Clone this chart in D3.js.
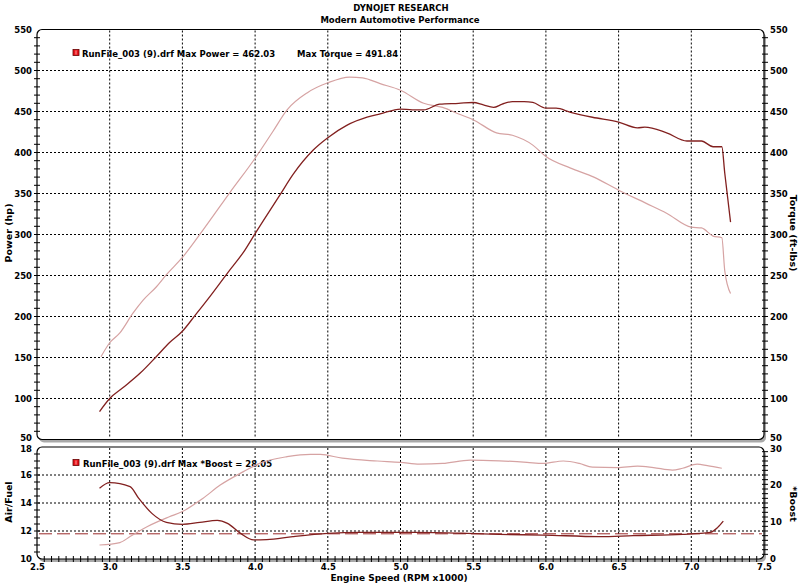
<!DOCTYPE html>
<html><head><meta charset="utf-8">
<script src="https://cdn.jsdelivr.net/npm/d3@7"></script>
<style>
html,body{margin:0;padding:0;background:#fff;}
svg text{font-family:"DejaVu Sans",Verdana,sans-serif;font-weight:bold;fill:#000;}
</style></head>
<body><svg id="c" width="800" height="584"></svg>
<script>
// ---- data ----
const powerRpm = [2.93,3.00,3.09,3.21,3.32,3.41,3.50,3.59,3.67,3.81,3.93,4.00,4.17,4.26,4.40,4.50,4.63,4.77,4.86,5.00,5.08,5.16,5.27,5.40,5.50,5.57,5.64,5.70,5.77,5.85,5.91,6.00,6.07,6.17,6.32,6.50,6.63,6.68,6.83,6.97,7.07,7.15,7.21,7.23,7.27];
const powerHp  = [84,100,113,131,151,168,182,202,220,253,281,301,348,373,403,418,433,443,447,453,452,452,459,460,461,458,455,459,462,462,461,454,454,449,443,437,430,431,424,414,414,407,407,375,315];
const torqueRpm = [2.94,3.00,3.07,3.16,3.23,3.32,3.39,3.50,3.64,3.83,4.00,4.12,4.22,4.36,4.50,4.65,4.74,4.86,5.00,5.16,5.29,5.40,5.50,5.66,5.77,5.91,6.00,6.17,6.33,6.50,6.69,6.83,7.00,7.07,7.15,7.21,7.23,7.27];
const torqueFt  = [151,168,180,204,220,236,251,272,305,352,393,425,452,473,485,492,491,484,476,460,455,447,440,424,421,409,395,381,370,354,338,326,309,308,298,296,256,228];
const afrRpm = [2.93,3.00,3.14,3.20,3.29,3.39,3.50,3.62,3.74,3.81,3.90,3.99,4.08,4.26,4.50,4.72,4.95,5.09,5.46,5.68,5.98,6.37,6.60,6.94,7.13,7.18,7.22];
const afr    = [15.05,15.45,15.17,14.33,13.26,12.62,12.48,12.62,12.76,12.55,11.83,11.36,11.38,11.6,11.83,11.9,11.9,11.9,11.83,11.76,11.71,11.6,11.67,11.76,11.9,12.24,12.7];
const boostRpm = [2.93,3.07,3.14,3.26,3.41,3.50,3.64,3.76,3.92,4.03,4.22,4.38,4.45,4.60,4.84,5.00,5.13,5.29,5.48,5.68,5.87,5.98,6.12,6.23,6.32,6.49,6.63,6.74,6.87,6.94,7.04,7.11,7.21];
const boost    = [3.75,4.4,6.0,8.7,11.3,12.7,16.2,19.8,23.4,25.6,27.4,28.05,28.0,27.0,26.25,25.9,25.4,25.6,26.5,26.3,25.9,25.6,26.25,25.6,24.6,24.5,24.9,24.5,23.8,24.3,25.4,25.0,24.3];
const afrTarget = 11.8;
const xTicks = [2.5,3.0,3.5,4.0,4.5,5.0,5.5,6.0,6.5,7.0,7.5];
const topTicks = [50,100,150,200,250,300,350,400,450,500,550];
const afTicks = [10,12,14,16,18];
const boostTicks = [0,10,20,30];
const title1 = "DYNOJET RESEARCH";
const title2 = "Modern Automotive Performance";
const legendTop1 = "RunFile_003 (9).drf Max Power = 462.03";
const legendTop2 = "Max Torque = 491.84";
const legendBot = "RunFile_003 (9).drf Max *Boost = 28.05";

// ---- scales ----
const svg = d3.select("#c");
const L = 37, R = 764;
const x = d3.scaleLinear([2.5,7.5],[L,R]);
const yT = d3.scaleLinear([50,550],[439.5,29.5]);
const yA = d3.scaleLinear([10,18],[559,447]);
const yB = d3.scaleLinear([0,30],[559,447]);

// ---- frames ----
function frame(y0,y1){
  svg.append("rect").attr("x",L+2).attr("y",y0+3).attr("width",R-L).attr("height",y1-y0)
     .attr("rx",5).attr("fill","#a9a9a9");
  svg.append("rect").attr("x",L).attr("y",y0).attr("width",R-L).attr("height",y1-y0)
     .attr("rx",5).attr("fill","#fff").attr("stroke","#000").attr("stroke-width",1.2);
}
frame(yT(550), yT(50));
frame(yA(18), yA(10));

// ---- grids ----
const gridX = xTicks.filter(v=>v>2.5&&v<7.5);
function vgrid(y0,y1){
  svg.append("g").selectAll("line").data(gridX).join("line")
    .attr("x1",d=>x(d)).attr("x2",d=>x(d)).attr("y1",y0).attr("y2",y1)
    .attr("stroke","#000").attr("stroke-dasharray","2,2").attr("stroke-width",1);
}
vgrid(yT(550)+1, yT(50)-1);
vgrid(yA(18)+1, yA(10)-1);
svg.append("g").selectAll("line").data(topTicks.filter(v=>v>50&&v<550)).join("line")
  .attr("x1",L+1).attr("x2",R-1).attr("y1",d=>yT(d)).attr("y2",d=>yT(d))
  .attr("stroke","#000").attr("stroke-dasharray","2,2");
svg.append("g").selectAll("line").data([12,14,16]).join("line")
  .attr("x1",L+1).attr("x2",R-1).attr("y1",d=>yA(d)).attr("y2",d=>yA(d))
  .attr("stroke","#000").attr("stroke-dasharray","2,2");

// ---- minor ticks ----
function ticksV(scale, vals, xa, xb){
  svg.append("g").selectAll("line").data(vals).join("line")
    .attr("x1",xa).attr("x2",xb).attr("y1",d=>scale(d)).attr("y2",d=>scale(d))
    .attr("stroke","#000");
}
ticksV(yT, d3.range(60,550,10), L-3, L+3);
ticksV(yT, d3.range(60,550,10), R-2, R+4);
ticksV(yA, d3.range(10.5,18,0.5), L-3, L+3);
ticksV(yB, d3.range(1.25,30,1.25), R-2, R+4);
svg.append("g").selectAll("line").data(d3.range(2.55,7.5,0.05)).join("line")
  .attr("x1",d=>x(d)).attr("x2",d=>x(d)).attr("y1",yA(10)-3).attr("y2",yA(10)+3)
  .attr("stroke","#000");

// ---- axes labels ----
function axisLbl(gen, tx, ty){
  const g = svg.append("g").attr("transform",`translate(${tx},${ty})`).call(gen);
  g.select(".domain").remove();
  g.selectAll(".tick line").remove();
  g.selectAll("text").attr("font-size","8.5px").attr("font-family","DejaVu Sans").attr("font-weight","bold");
  return g;
}
function nudge(g, val, dy){
  g.selectAll(".tick").filter(d=>d===val).select("text").attr("dy", dy);
}
const gTL = axisLbl(d3.axisLeft(yT).tickValues(topTicks).tickFormat(d3.format("d")).tickSize(0).tickPadding(0), 32, 0);
const gTR = axisLbl(d3.axisRight(yT).tickValues(topTicks).tickFormat(d3.format("d")).tickSize(0).tickPadding(0), 770, 0);
const gAL = axisLbl(d3.axisLeft(yA).tickValues(afTicks).tickFormat(d3.format("d")).tickSize(0).tickPadding(0), 32, 0);
const gBR = axisLbl(d3.axisRight(yB).tickValues(boostTicks).tickFormat(d3.format("d")).tickSize(0).tickPadding(0), 770, 0);
nudge(gTL, 50, "0.12em"); nudge(gTR, 50, "0.12em");
nudge(gAL, 18, "0.5em"); nudge(gBR, 30, "0.5em");
axisLbl(d3.axisBottom(x).tickValues(xTicks).tickFormat(d3.format(".1f")).tickSize(0).tickPadding(0), 0, 564);

// ---- titles ----
svg.append("text").attr("x",401).attr("y",11).attr("text-anchor","middle").attr("font-size","8.5px").text(title1);
svg.append("text").attr("x",400).attr("y",23).attr("text-anchor","middle").attr("font-size","8.5px").text(title2);
svg.append("text").attr("x",399).attr("y",581).attr("text-anchor","middle").attr("font-size","9px").text("Engine Speed (RPM x1000)");
svg.append("text").attr("transform","translate(12,233) rotate(-90)").attr("text-anchor","middle").attr("font-size","9.5px").text("Power (hp)");
svg.append("text").attr("transform","translate(790,233) rotate(90)").attr("text-anchor","middle").attr("font-size","9.5px").text("Torque (ft-lbs)");
svg.append("text").attr("transform","translate(12,502) rotate(-90)").attr("text-anchor","middle").attr("font-size","9.5px").text("Air/Fuel");
svg.append("text").attr("transform","translate(790,504) rotate(90)").attr("text-anchor","middle").attr("font-size","9.5px").text("*Boost");

// ---- legends ----
function legendBox(lx,ly){
  svg.append("rect").attr("x",lx).attr("y",ly).attr("width",6).attr("height",6)
    .attr("fill","#e8141c").attr("stroke","#600").attr("stroke-width",0.8);
  svg.append("line").attr("x1",lx+3).attr("x2",lx+3).attr("y1",ly+1).attr("y2",ly+5).attr("stroke","#ff9a9a").attr("stroke-width",1);
}
legendBox(73,49.5);
svg.append("text").attr("x",82).attr("y",56.5).attr("font-size","8.5px").text(legendTop1);
svg.append("text").attr("x",297).attr("y",56.5).attr("font-size","8.5px").text(legendTop2);
legendBox(73,459.5);
svg.append("text").attr("x",83).attr("y",466.5).attr("font-size","8.5px").text(legendBot);

// ---- series ----
const lineT = (xs, ys, sy) => d3.line().x((d,i)=>x(xs[i])).y(d=>sy(d)).curve(d3.curveMonotoneX)(ys);
svg.append("line").attr("x1",L+2).attr("x2",R-2).attr("y1",yA(afrTarget)).attr("y2",yA(afrTarget))
  .attr("stroke","#9b2a2a").attr("stroke-dasharray","13,5").attr("stroke-width",1);
svg.append("path").attr("d",lineT(torqueRpm,torqueFt,yT)).attr("fill","none").attr("stroke","#d6a3a3").attr("stroke-width",1.2);
svg.append("path").attr("d",lineT(powerRpm,powerHp,yT)).attr("fill","none").attr("stroke","#82201f").attr("stroke-width",1.3);
svg.append("path").attr("d",lineT(boostRpm,boost,yB)).attr("fill","none").attr("stroke","#d6a3a3").attr("stroke-width",1.2);
svg.append("path").attr("d",lineT(afrRpm,afr,yA)).attr("fill","none").attr("stroke","#82201f").attr("stroke-width",1.3);
</script></body></html>
